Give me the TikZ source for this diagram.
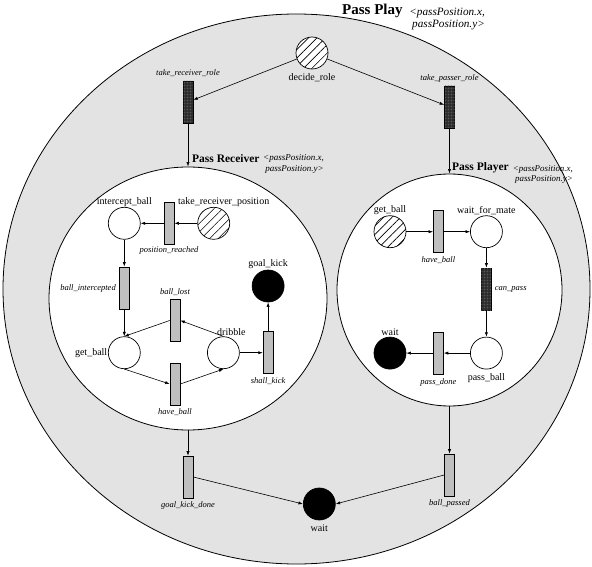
\documentclass[tikz,border=0pt]{standalone}
\usepackage{fontspec}
\setmainfont{Liberation Serif}
\usetikzlibrary{positioning,shapes.geometric,arrows.meta,patterns.meta}

\begin{document}
\begin{tikzpicture}[
    x=1pt, y=-1pt,
    place/.style={circle, draw, fill=white, minimum size=32pt, inner sep=0pt, line width=0.7pt},
    hatched/.style={place, postaction={pattern={Lines[angle=45, distance=6pt, line width=0.6pt]}}},
    token/.style={place, fill=black},
    trans/.style={rectangle, draw, fill=black!25, minimum width=10pt, minimum height=42pt, inner sep=0pt, line width=0.7pt},
    dtrans/.style={trans, fill=black!85, postaction={pattern={Dots[distance=1.5pt, radius=0.4pt]}, pattern color=black!55}},
    net/.style={ellipse, draw, fill=white, inner sep=0pt, line width=0.8pt},
    arrow/.style={-{Latex[length=4.5pt, width=3.2pt]}, line width=0.6pt},
    pname/.style={font=\fontsize{10}{11}\selectfont, inner sep=0.5pt},
    tname/.style={font=\fontsize{8.5}{10}\selectfont\itshape, inner sep=1pt},
    nettitle/.style={font=\fontsize{11.5}{13}\selectfont\bfseries, inner sep=0pt},
    note/.style={font=\fontsize{8.9}{10}\selectfont\itshape, align=right, inner sep=0pt}
]
\useasboundingbox (0,0) rectangle (592,567);

% Pass Play net
\node[net, fill=black!11, minimum width=587pt, minimum height=550pt] (pp) at (296.5,289) {};
\node[nettitle, font=\fontsize{15}{17}\selectfont\bfseries, anchor=base west] (pp_title) at (342,15) {Pass Play};
\node[note, font=\fontsize{11.2}{12.5}\selectfont\itshape, anchor=north east] (pp_note) at (485,7.5) {<passPosition.x,\\passPosition.y>};

% Role choice
\node[hatched, label={[pname, label distance=4pt]below:decide\_role}] (decide) at (312,53) {};
\node[dtrans, label={[tname, label distance=2.5pt]above:take\_receiver\_role}] (trr) at (188,102) {};
\node[dtrans, label={[tname, label distance=2.5pt]above:take\_passer\_role}] (tpr) at (449.5,107) {};

% Sub nets
\node[net, minimum width=278pt, minimum height=263pt] (recv) at (188,298.5) {};
\node[net, minimum width=225pt, minimum height=232pt] (play) at (449.5,290) {};

\node[nettitle, anchor=base west] (recv_title) at (192,163) {Pass Receiver};
\node[note, font=\fontsize{9}{10.5}\selectfont\itshape, anchor=north east] (recv_note) at (324,154.5) {<passPosition.x,\\passPosition.y>};
\node[nettitle, anchor=base west] (play_title) at (452,171) {Pass Player};
\node[note, anchor=north east] (play_note) at (573,165.5) {<passPosition.x,\\passPosition.y>};

% Pass Receiver
\node[place, label={[pname]above:intercept\_ball}] (icb) at (124.3,223.3) {};
\node[trans, right=23pt of icb, label={[tname, label distance=1pt]below:position\_reached}] (prc) {};
\node[hatched, right=23pt of prc, label={[pname, xshift=10pt]above:take\_receiver\_position}] (trp) {};
\node[trans, below=27pt of icb, label={[tname, label distance=2pt]left:ball\_intercepted}] (bic) {};
\node[place, below=27pt of bic, label={[pname, label distance=0pt]left:get\_ball}] (rget) {};
\node[place, right=66.4pt of rget, label={[pname, xshift=8pt]above:dribble}] (drib) {};
\node[trans, label={[tname, label distance=2.5pt]above:ball\_lost}] (blost) at (175,320.5) {};
\node[trans, label={[tname, label distance=2.5pt]below:have\_ball}] (rhave) at (175,384) {};
\node[trans, right=23pt of drib, label={[tname, label distance=2.5pt]below:shall\_kick}] (skick) {};
\node[token, above=29pt of skick, label={[pname]above:goal\_kick}] (gkick) {};

% Pass Player
\node[hatched, label={[pname]above:get\_ball}] (pget) at (390,231.7) {};
\node[trans, right=26.7pt of pget, label={[tname, label distance=2.5pt]below:have\_ball}] (phave) {};
\node[place, right=26.3pt of phave, label={[pname]above:wait\_for\_mate}] (wfm) {};
\node[dtrans, below=19.6pt of wfm, label={[tname, label distance=2pt]right:can\_pass}] (cpass) {};
\node[place, below=26.4pt of cpass, label={[pname, label distance=3.5pt]below:pass\_ball}] (pball) {};
\node[trans, left=26.3pt of pball, label={[tname, label distance=2.5pt]below:pass\_done}] (pdone) {};
\node[token, left=26.7pt of pdone, label={[pname]above:wait}] (pwait) {};

% Ending
\node[trans, label={[tname, label distance=2.5pt]below:goal\_kick\_done}] (gkd) at (188,477) {};
\node[trans, label={[tname, label distance=2.5pt]below:ball\_passed}] (bpass) at (449.5,475) {};
\node[token, label={[pname, label distance=3.5pt]below:wait}] (wait) at (319.3,504) {};

% Arcs of the outer net
\draw[arrow] (decide) -- (trr);
\draw[arrow] (decide) -- (tpr);
\draw[arrow] (trr) -- (recv);
\draw[arrow] (tpr) -- (play);
\draw[arrow] (recv) -- (gkd);
\draw[arrow] (play) -- (bpass);
\draw[arrow] (gkd.east) -- (wait.west);
\draw[arrow] (bpass.west) -- (wait.east);

% Arcs of Pass Receiver
\draw[arrow] (trp) -- (prc);
\draw[arrow] (prc) -- (icb);
\draw[arrow] (icb) -- (bic);
\draw[arrow] (bic) -- (rget);
\draw[arrow] (rget.south) -- (rhave.west);
\draw[arrow] (rhave.east) -- (drib.south);
\draw[arrow] (drib.north) -- (blost.east);
\draw[arrow] (blost.west) -- (rget.north);
\draw[arrow] (drib) -- (skick);
\draw[arrow] (skick) -- (gkick);

% Arcs of Pass Player
\draw[arrow] (pget) -- (phave);
\draw[arrow] (phave) -- (wfm);
\draw[arrow] (wfm) -- (cpass);
\draw[arrow] (cpass) -- (pball);
\draw[arrow] (pball) -- (pdone);
\draw[arrow] (pdone) -- (pwait);

\end{tikzpicture}
\end{document}
